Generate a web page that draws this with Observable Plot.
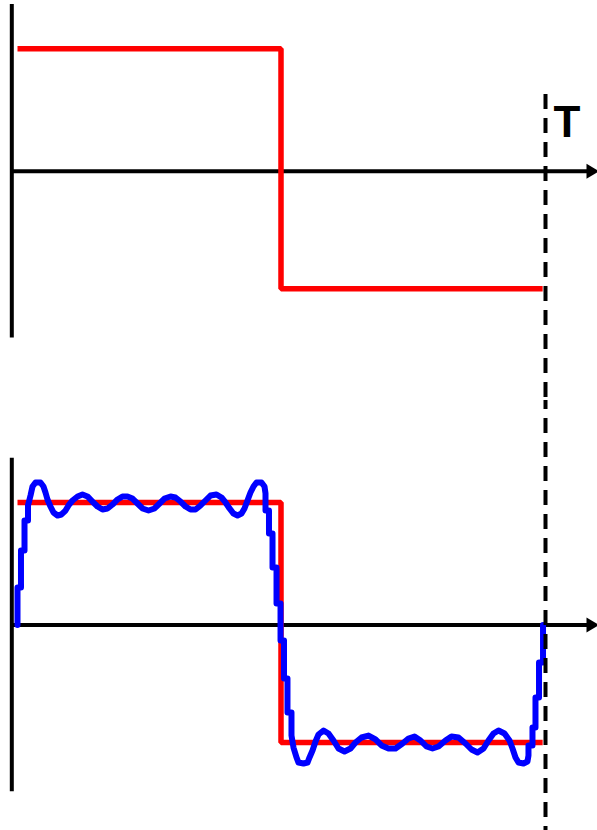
<!DOCTYPE html>
<html><head><meta charset="utf-8">
<script src="https://cdn.jsdelivr.net/npm/d3@7"></script>
<script src="https://cdn.jsdelivr.net/npm/@observablehq/plot@0.6"></script>
<style>html,body{margin:0;padding:0;background:#fff;overflow:hidden} svg{display:block}</style>
</head><body><div id="chart"></div>
<script>
// Ideal square wave over one period (t in units of T)
const squareT = [0, 0.5, 0.5, 0.9965];
const squareV = [1.02, 1.02, -0.98, -0.98];

// Fourier partial-sum approximation
const blueT = [0,0,0.0066,0.0066,0.0133,0.0133,0.0199,0.0199,0.0247,0.0285,0.0342,0.0436,0.0493,0.0531,0.0569,0.0626,0.0683,0.0759,0.0835,0.0911,0.0968,0.1044,0.1139,0.1233,0.1328,0.1423,0.1518,0.1613,0.1708,0.1803,0.1898,0.1992,0.2087,0.2182,0.2277,0.2372,0.2486,0.2600,0.2695,0.2789,0.2903,0.2998,0.3093,0.3188,0.3283,0.3378,0.3473,0.3567,0.3662,0.3776,0.3871,0.3947,0.4023,0.4099,0.4175,0.4251,0.4307,0.4364,0.4421,0.4478,0.4535,0.4630,0.4687,0.4706,0.4706,0.4772,0.4772,0.4839,0.4839,0.4915,0.4915,0.4991,0.4991,0.5057,0.5057,0.5123,0.5123,0.5199,0.5199,0.5237,0.5294,0.5332,0.5427,0.5503,0.5541,0.5598,0.5655,0.5712,0.5807,0.5901,0.5996,0.6091,0.6205,0.6319,0.6414,0.6528,0.6660,0.6793,0.6907,0.7040,0.7173,0.7306,0.7419,0.7533,0.7647,0.7761,0.7875,0.7989,0.8121,0.8235,0.8368,0.8501,0.8615,0.8729,0.8843,0.8937,0.9032,0.9127,0.9241,0.9336,0.9393,0.9450,0.9507,0.9602,0.9677,0.9696,0.9696,0.9772,0.9772,0.9829,0.9829,0.9896,0.9896,0.9972,0.9972];
const blueV = [0,0.3125,0.3125,0.621,0.621,0.871,0.871,0.996,1.079,1.154,1.1875,1.1875,1.154,1.104,1.046,0.9875,0.9375,0.9125,0.921,0.954,0.996,1.0375,1.071,1.0875,1.071,1.029,0.9875,0.9625,0.971,1.004,1.046,1.071,1.071,1.054,1.0125,0.971,0.954,0.971,1.0125,1.054,1.071,1.0625,1.029,0.9875,0.9625,0.9625,0.996,1.0375,1.079,1.0875,1.0625,1.021,0.971,0.929,0.9125,0.929,0.971,1.0375,1.104,1.154,1.1875,1.1875,1.154,1.096,0.954,0.954,0.7625,0.7625,0.479,0.479,0.179,0.179,-0.129,-0.129,-0.446,-0.446,-0.729,-0.729,-0.921,-1.021,-1.104,-1.146,-1.154,-1.146,-1.104,-1.046,-0.971,-0.9125,-0.879,-0.904,-0.9625,-1.029,-1.054,-1.029,-0.979,-0.9375,-0.921,-0.954,-1.004,-1.029,-1.029,-0.9875,-0.946,-0.929,-0.9625,-1.0125,-1.029,-1.0125,-0.9625,-0.929,-0.9375,-0.9875,-1.0375,-1.0625,-1.029,-0.9625,-0.904,-0.879,-0.904,-0.9625,-1.029,-1.104,-1.146,-1.154,-1.138,-1.088,-1.004,-1.004,-0.854,-0.854,-0.604,-0.604,-0.3125,-0.3125,0];

const periodT = 1.0019;       // position of the dashed "T" line
const periodLabel = "T";
const axisHalf = 1.39;        // half-length of the vertical axis
const axisStart = -0.0108;    // t of the vertical axis
const arrowAt = 1.0911;       // t of the arrowhead centre

const square = squareT.map((t, i) => ({t, v: squareV[i]}));
const blue = blueT.map((t, i) => ({t, v: blueV[i]}));

const arrowSymbol = {
  draw(ctx) { ctx.moveTo(6.5, 0); ctx.lineTo(-6, -7.5); ctx.lineTo(-6, 7.5); ctx.closePath(); }
};

function panel({height, baseline, withBlue, dashY1, dashOffset, label}) {
  const marks = [
    Plot.ruleX([axisStart], {y1: -axisHalf, y2: axisHalf, stroke: "black", strokeWidth: 4}),
    Plot.ruleY([0], {x1: axisStart, x2: arrowAt - 0.005, stroke: "black", strokeWidth: 4}),
    Plot.dot([{t: arrowAt, v: 0}], {x: "t", y: "v", r: 7, symbol: arrowSymbol, fill: "black", stroke: "none"}),
    Plot.line(square, {x: "t", y: "v", stroke: "#ff0000", strokeWidth: 5.5, strokeLinejoin: "miter", strokeLinecap: "butt"})
  ];
  if (withBlue) marks.push(Plot.line(blue, {x: "t", y: "v", stroke: "#0000ff", strokeWidth: 6, strokeLinejoin: "round", strokeLinecap: "round"}));
  marks.push(Plot.ruleX([periodT], {y1: dashY1, y2: -2.5, stroke: "black", strokeWidth: 4, strokeDasharray: "15,9", strokeDashoffset: dashOffset}));
  if (label) marks.push(Plot.text([label], {x: 1.0171, y: 0.281, text: d => d, textAnchor: "start", lineAnchor: "bottom",
    fontSize: 44, fontWeight: "bold", fontFamily: "Liberation Sans, Arial, sans-serif", fill: "black"}));
  return Plot.plot({
    width: 597, height,
    marginTop: 0, marginRight: 0, marginBottom: 0, marginLeft: 0,
    x: {domain: [0, 1], range: [17, 544], axis: null},
    y: {domain: [-1, 1], range: [baseline + 120, baseline - 120], axis: null},
    style: {background: "white", overflow: "hidden"},
    marks
  });
}

const topPanel = panel({height: 400, baseline: 170.7, withBlue: false, dashY1: 0.639, dashOffset: 0, label: periodLabel});
const bottomPanel = panel({height: 430, baseline: 224.5, withBlue: true, dashY1: 2.5, dashOffset: 2.5, label: null});
const root = document.getElementById("chart");
root.appendChild(topPanel);
root.appendChild(bottomPanel);
</script>
</body></html>
